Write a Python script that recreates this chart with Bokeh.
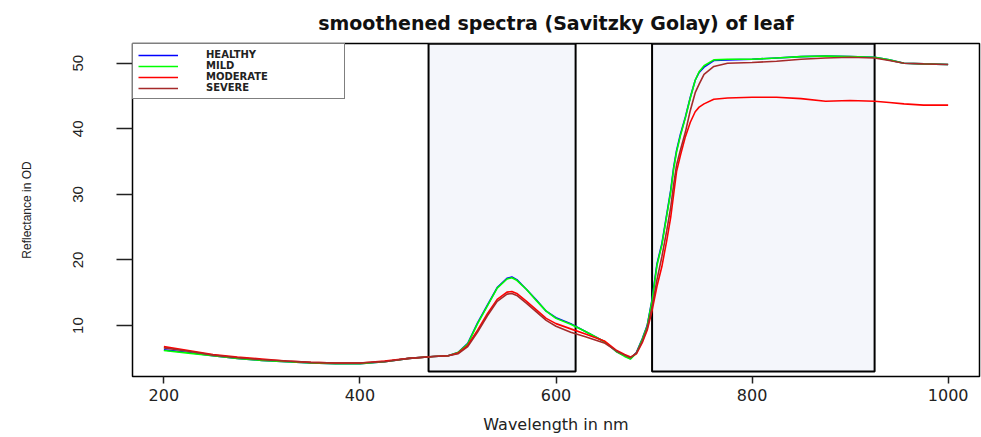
from bokeh.plotting import figure
from bokeh.models import Range1d, FixedTicker, Legend, LegendItem, ColumnDataSource
from bokeh.embed import file_html
from bokeh.resources import INLINE

# ---- data ----
wavelength = [200, 225, 250, 275, 300, 325, 350, 375, 400, 425, 450, 475, 490, 500,
              510, 520, 530, 540, 550, 555, 560, 570, 580, 590, 600, 615, 630, 650,
              662, 670, 676, 682, 688, 693, 698, 703, 708, 713, 717, 720, 723, 727,
              732, 737, 742, 746, 751, 761, 775, 800, 825, 850, 875, 900, 925, 940,
              955, 975, 1000]

healthy = [6.3, 5.9, 5.4, 5.0, 4.7, 4.5, 4.3, 4.2, 4.2, 4.5, 5.0, 5.3, 5.4, 5.9,
           7.3, 10.4, 13.1, 15.8, 17.2, 17.4, 17.0, 15.5, 13.9, 12.2, 11.2, 10.3, 9.1, 7.5,
           6.0, 5.4, 4.95, 5.9, 8.0, 10.0, 14.0, 19.4, 22.5, 27.0, 30.6, 34.1, 36.7, 39.2,
           41.8, 44.8, 47.4, 48.6, 49.4, 50.4, 50.5, 50.6, 50.8, 51.0, 51.1, 51.0, 50.9, 50.5,
           50.0, 49.9, 49.8]

mild = [6.2, 5.8, 5.4, 5.0, 4.7, 4.5, 4.3, 4.2, 4.2, 4.5, 5.0, 5.3, 5.4, 5.9,
        7.2, 10.3, 13.0, 15.7, 17.1, 17.3, 16.9, 15.5, 13.8, 12.2, 11.1, 10.2, 9.1, 7.5,
        6.0, 5.3, 4.9, 5.8, 7.9, 9.9, 13.8, 19.2, 22.3, 26.8, 30.4, 33.9, 36.5, 39.0,
        41.7, 44.7, 47.4, 48.7, 49.6, 50.5, 50.6, 50.6, 50.8, 51.0, 51.1, 51.0, 50.9, 50.5,
        50.0, 49.9, 49.8]

moderate = [6.8, 6.2, 5.6, 5.2, 4.9, 4.6, 4.4, 4.3, 4.3, 4.6, 5.0, 5.3, 5.4, 5.8,
            7.0, 9.3, 11.8, 14.0, 15.1, 15.2, 14.9, 13.7, 12.4, 11.1, 10.3, 9.5, 8.7, 7.6,
            6.2, 5.6, 5.2, 5.7, 7.4, 9.3, 12.3, 16.0, 19.0, 23.0, 26.5, 30.0, 33.5, 36.0,
            38.8, 41.0, 42.6, 43.3, 43.8, 44.5, 44.7, 44.8, 44.8, 44.6, 44.2, 44.3, 44.2, 44.0,
            43.8, 43.6, 43.6]

severe = [6.6, 6.1, 5.5, 5.1, 4.8, 4.6, 4.4, 4.3, 4.3, 4.5, 5.0, 5.3, 5.4, 5.7,
          6.8, 9.0, 11.5, 13.7, 14.8, 14.9, 14.6, 13.4, 12.1, 10.8, 9.9, 9.0, 8.3, 7.3,
          6.1, 5.5, 5.1, 5.8, 7.6, 9.6, 12.8, 17.0, 20.5, 24.5, 28.0, 31.5, 34.5, 36.8,
          39.5, 42.8, 45.5, 46.8, 48.3, 49.5, 50.0, 50.1, 50.3, 50.6, 50.8, 50.9, 50.8, 50.4,
          50.0, 49.9, 49.8]

series_names = ["HEALTHY", "MILD", "MODERATE", "SEVERE"]
series_colors = ["#0000ff", "#00ff00", "#ff0000", "#a52a2a"]

# highlighted wavelength windows (left, right)
box_left = [470, 698]
box_right = [620, 925]
box_bottom = [3.0, 3.0]
box_top = [52.95, 52.95]

x_ticks = [200, 400, 600, 800, 1000]
y_ticks = [10, 20, 30, 40, 50]

# ---- figure ----
p = figure(width=981, height=437, output_backend="svg", toolbar_location=None,
           x_range=Range1d(168, 1032), y_range=Range1d(2.24, 53.0),
           min_border_left=132, min_border_right=2, min_border_top=43,
           min_border_bottom=61)

p.background_fill_color = "white"
p.border_fill_color = "white"
p.outline_line_color = "black"
p.outline_line_width = 1.5
p.grid.visible = False

p.title.text = "smoothened spectra (Savitzky Golay) of leaf"
p.title.align = "center"
p.title.text_font = "DejaVu Sans"
p.title.text_font_style = "bold"
p.title.text_font_size = "19px"
p.title.text_color = "#111111"
p.title.standoff = 19

# highlight boxes
p.quad(left=box_left, right=box_right, bottom=box_bottom, top=box_top,
       fill_color="#f4f6fb", line_color="black", line_width=2)

src = ColumnDataSource(dict(x=wavelength, healthy=healthy, mild=mild,
                            moderate=moderate, severe=severe))
renderers = []
for col, color in zip(["healthy", "mild", "moderate", "severe"], series_colors):
    r = p.line("x", col, source=src, line_color=color, line_width=1.6)
    renderers.append(r)

# axes
xa = p.xaxis[0]
xa.ticker = FixedTicker(ticks=x_ticks)
xa.axis_line_color = None
xa.major_tick_in = 0
xa.major_tick_out = 7
xa.minor_tick_line_color = None
xa.major_tick_line_color = "#222222"
xa.major_tick_line_width = 1.5
xa.major_label_text_font = "DejaVu Sans"
xa.major_label_text_font_size = "16px"
xa.major_label_text_color = "#222222"
xa.major_label_standoff = 5
xa.axis_label = "Wavelength in nm"
xa.axis_label_text_font = "DejaVu Sans"
xa.axis_label_text_font_size = "16px"
xa.axis_label_text_font_style = "normal"
xa.axis_label_text_color = "#222222"
xa.axis_label_standoff = 11

ya = p.yaxis[0]
ya.ticker = FixedTicker(ticks=y_ticks)
ya.axis_line_color = None
ya.major_tick_in = 0
ya.major_tick_out = 16
ya.minor_tick_line_color = None
ya.major_tick_line_color = "#222222"
ya.major_tick_line_width = 1.5
ya.major_label_orientation = "vertical"
ya.major_label_text_font = "Liberation Sans"
ya.major_label_text_font_size = "15px"
ya.major_label_text_color = "#222222"
ya.major_label_standoff = 33
ya.axis_label = "Reflectance in OD"
ya.axis_label_text_font = "Liberation Sans"
ya.axis_label_text_font_size = "12px"
ya.axis_label_text_font_style = "normal"
ya.axis_label_text_color = "#222222"
ya.axis_label_standoff = 37

legend = Legend(items=[LegendItem(label=n, renderers=[r]) for n, r in zip(series_names, renderers)],
                location="top_left", margin=0, padding=5, spacing=0,
                glyph_width=40, glyph_height=10, label_height=10, label_standoff=28,
                label_width=133,
                label_text_font="DejaVu Sans", label_text_font_style="bold",
                label_text_font_size="10px", label_text_color="#222222",
                border_line_color="black", border_line_width=1.2,
                background_fill_color="white", background_fill_alpha=1.0)
p.add_layout(legend)

open("out.html", "w").write(file_html(p, INLINE))
